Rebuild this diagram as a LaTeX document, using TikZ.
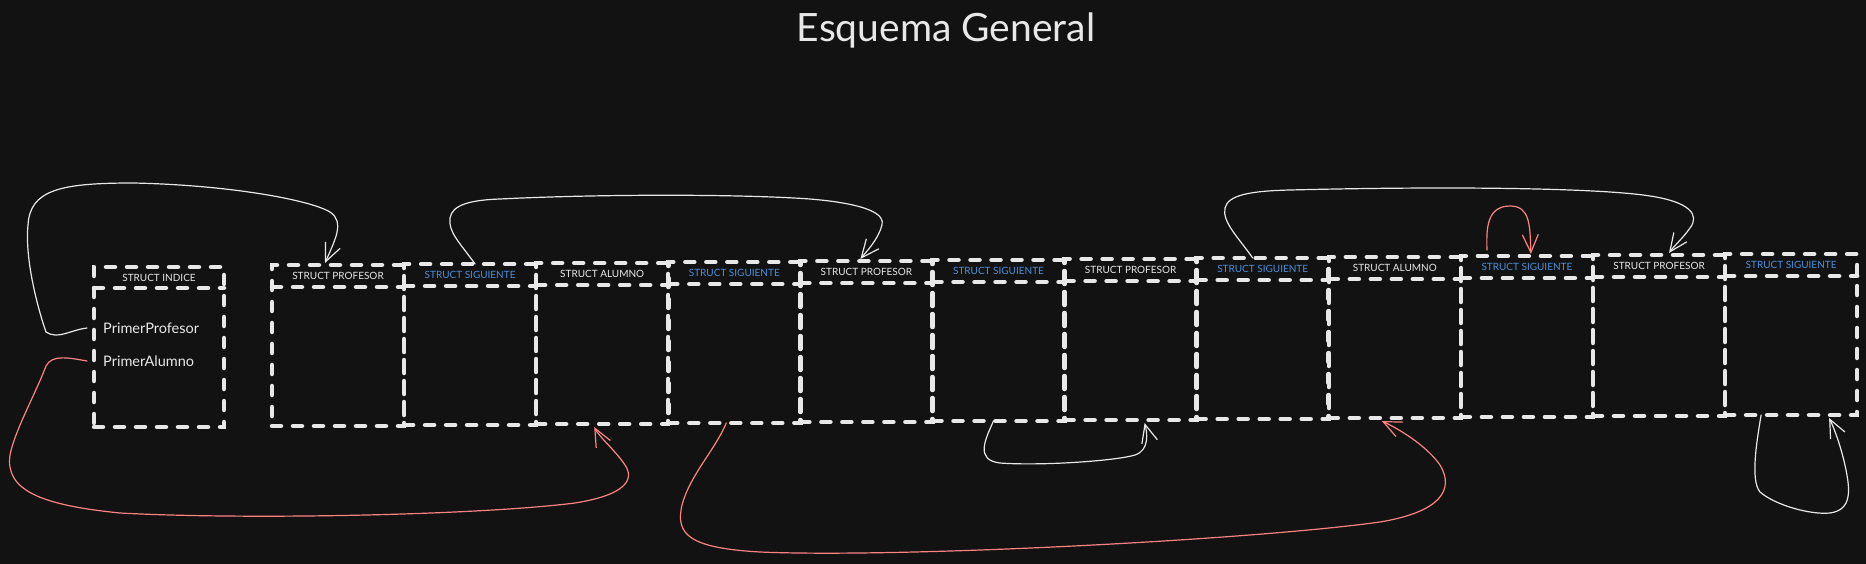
\documentclass[tikz,border=0pt]{standalone}
\usepackage{fontspec}
\setmainfont{Lato}
\usetikzlibrary{arrows.meta}
\definecolor{bg}{HTML}{121212}
\definecolor{fg}{HTML}{E8E8E8}
\definecolor{sblue}{HTML}{4A90D9}
\definecolor{sred}{HTML}{FF8383}
\begin{document}
\begin{tikzpicture}[x=1pt,y=-1pt,
  boxbase/.style={draw=fg, line width=4.5pt, line cap=round, dash pattern=on 9pt off 12pt},
  box/.style={boxbase, minimum width=132pt, minimum height=161pt, inner sep=0pt, outer sep=0pt, anchor=north west},
  hdr/.style={font=\fontsize{10}{11}\selectfont, text=fg, inner sep=0pt},
  fieldtxt/.style={font=\fontsize{14.5}{16}\selectfont, text=fg, inner sep=0pt, anchor=west},
  link/.style={draw=fg, line width=1.2pt, line cap=round, -{Straight Barb[length=18pt,width=16pt]}},
  linkr/.style={link, draw=sred},
]
\fill[bg] (0,0) rectangle (1866,564);
\useasboundingbox (0,0) rectangle (1866,564);

\node[font=\fontsize{39}{44}\selectfont, text=fg] (title) at (946,30) {Esquema General};

% index box
\node[box, minimum width=130pt, minimum height=160pt] (ind) at (94,267) {};
\draw[boxbase] ([yshift=-21pt]ind.north west) -- ([yshift=-21pt]ind.north east);
\node[hdr] (indlab) at ([yshift=-11pt]ind.north) {STRUCT INDICE};
\node[fieldtxt] (pp) at (103,328) {PrimerProfesor};
\node[fieldtxt] (pa) at (103,361) {PrimerAlumno};

% chain of boxes
\foreach \i/\lab/\c in {0/PROFESOR/fg, 1/SIGUIENTE/sblue, 2/ALUMNO/fg, 3/SIGUIENTE/sblue,
  4/PROFESOR/fg, 5/SIGUIENTE/sblue, 6/PROFESOR/fg, 7/SIGUIENTE/sblue, 8/ALUMNO/fg,
  9/SIGUIENTE/sblue, 10/PROFESOR/fg, 11/SIGUIENTE/sblue} {
  \node[box] (b\i) at ({272+132.1*\i},{265-\i}) {};
  \draw[boxbase] ([yshift=-22pt]b\i.north west) -- ([yshift=-22pt]b\i.north east);
  \node[hdr, text=\c] (lab\i) at ([yshift=-11pt]b\i.north) {STRUCT \lab};
}

% 1: PrimerProfesor -> first profesor
\draw[link] ([xshift=-16pt]pp.west) .. controls (70,330) and (58,340) .. (46,332)
  .. controls (35,300) and (25,255) .. (28,225)
  .. controls (30,190) and (60,183) .. (133,183)
  .. controls (230,185) and (310,200) .. (330,212)
  .. controls (345,222) and (335,240) .. ([xshift=-13pt,yshift=2pt]b0.north);

% 2: siguiente b1 -> profesor b4
\draw[link] ([xshift=5pt]b1.north) .. controls (460,243) and (448,232) .. (450,218)
  .. controls (452,205) and (470,200) .. (500,199)
  .. controls (600,194) and (740,194) .. (810,199)
  .. controls (870,204) and (885,215) .. (882,225)
  .. controls (878,240) and (866,252) .. ([xshift=-6pt,yshift=2pt]b4.north);

% 3: siguiente b7 -> profesor b10
\draw[link] ([xshift=-10pt]b7.north) .. controls (1238,237) and (1222,222) .. (1225,208)
  .. controls (1228,195) and (1250,191) .. (1290,190)
  .. controls (1450,186) and (1600,188) .. (1650,196)
  .. controls (1690,202) and (1700,215) .. (1690,228)
  .. controls (1683,238) and (1674,246) .. ([xshift=10pt,yshift=2pt]b10.north);

% 4: red self loop on b9
\draw[linkr] ([xshift=-40pt,yshift=6pt]b9.north) .. controls (1487,235) and (1484,206) .. (1510,206)
  .. controls (1530,206) and (1530,225) .. ([xshift=4pt,yshift=2pt]b9.north);

% 5: siguiente b5 -> profesor b6 (below)
\draw[link] ([xshift=-5pt]b5.south) .. controls (985,440) and (975,460) .. (1000,463)
  .. controls (1040,466) and (1115,461) .. (1135,455)
  .. controls (1150,450) and (1147,432) .. ([xshift=14pt,yshift=-3pt]b6.south);

% 6: PrimerAlumno -> alumno b2 (red)
\draw[linkr] ([xshift=-16pt]pa.west) .. controls (70,358) and (52,354) .. (46,366)
  .. controls (35,395) and (15,430) .. (10,455)
  .. controls (5,490) and (40,505) .. (120,513)
  .. controls (250,520) and (480,515) .. (575,503)
  .. controls (625,495) and (635,480) .. (625,465)
  .. controls (615,450) and (600,438) .. ([xshift=-8pt,yshift=-3pt]b2.south);

% 7: siguiente b3 -> alumno b8 (red)
\draw[linkr] ([xshift=-8pt]b3.south) .. controls (715,450) and (690,475) .. (682,505)
  .. controls (675,535) and (690,548) .. (760,552)
  .. controls (900,558) and (1250,540) .. (1380,522)
  .. controls (1440,512) and (1455,490) .. (1440,465)
  .. controls (1428,448) and (1405,432) .. ([xshift=-13pt,yshift=-3pt]b8.south);

% 8: white self loop below b11
\draw[link] ([xshift=-30pt]b11.south) .. controls (1757,440) and (1750,480) .. (1760,492)
  .. controls (1775,505) and (1810,515) .. (1830,513)
  .. controls (1852,510) and (1850,490) .. (1846,470)
  .. controls (1842,450) and (1835,430) .. ([xshift=38pt,yshift=-3pt]b11.south);
\end{tikzpicture}
\end{document}
